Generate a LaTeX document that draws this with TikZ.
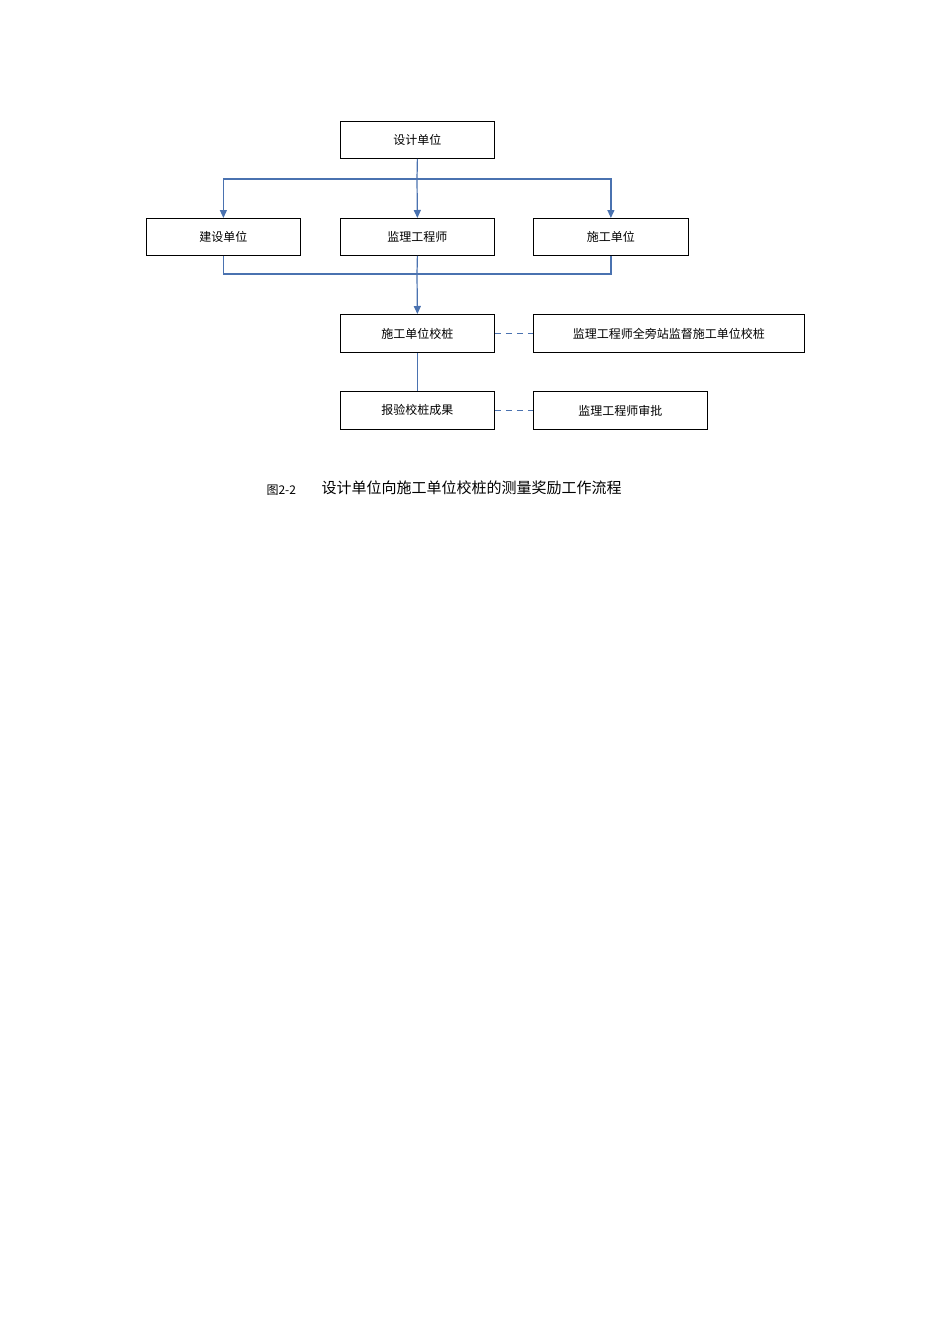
\documentclass[tikz,border=0pt]{standalone}
\usepackage{fontspec}
\newfontfamily\cjk{Noto Sans CJK SC}
\usetikzlibrary{arrows.meta}
\definecolor{lb}{HTML}{4A72B0}
\begin{document}
\begin{tikzpicture}[x=1pt,y=-1pt,
  bx/.style={draw=black,line width=0.8pt,minimum height=37pt,inner sep=0pt,font=\cjk\fontsize{12}{14}\selectfont,anchor=north west},
  cn/.style={draw=lb,line width=1.2pt},
  ar/.style={cn,-{Triangle[width=7pt,length=8pt]}},
  ds/.style={draw=lb,line width=1pt,dash pattern=on 6pt off 5pt}]
\useasboundingbox[fill=white] (0,0) rectangle (950,1344);
\node[bx,minimum width=154pt] (a) at (340,121) {设计单位};
\node[bx,minimum width=154pt] (b) at (146,218) {建设单位};
\node[bx,minimum width=154pt] (c) at (340,218) {监理工程师};
\node[bx,minimum width=155pt] (d) at (533,218) {施工单位};
\node[bx,minimum width=154pt,minimum height=38pt] (e) at (340,314) {施工单位校桩};
\node[bx,minimum width=271pt,minimum height=38pt] (f) at (533,314) {监理工程师全旁站监督施工单位校桩};
\node[bx,minimum width=154pt,minimum height=38pt] (g) at (340,391) {报验校桩成果};
\node[bx,minimum width=174pt,minimum height=38pt] (h) at (533,391) {监理工程师审批};
\coordinate (t1) at (417,179);
\coordinate (t2) at (417,274);
\draw[cn] (a.south) -- (t1);
\draw[ar] (t1) -| (b.north);
\draw[ar] (t1) -| (d.north);
\draw[ar] (t1) -- (c.north);
\draw[cn] (b.south) |- (t2);
\draw[cn] (d.south) |- (t2);
\draw[cn] (c.south) -- (t2);
\draw[ar] (t2) -- (e.north);
\draw[cn] (e.south) -- (g.north);
\draw[ds] (e.east) -- (f.west);
\draw[ds] (g.east) -- (h.west);
\node[font=\cjk\fontsize{12}{14}\selectfont,anchor=west] (cap1) at (263,490) {图2-2};
\node[font=\cjk\fontsize{15}{18}\selectfont,anchor=west] (cap2) at (318,488) {设计单位向施工单位校桩的测量奖励工作流程};
\end{tikzpicture}
\end{document}
